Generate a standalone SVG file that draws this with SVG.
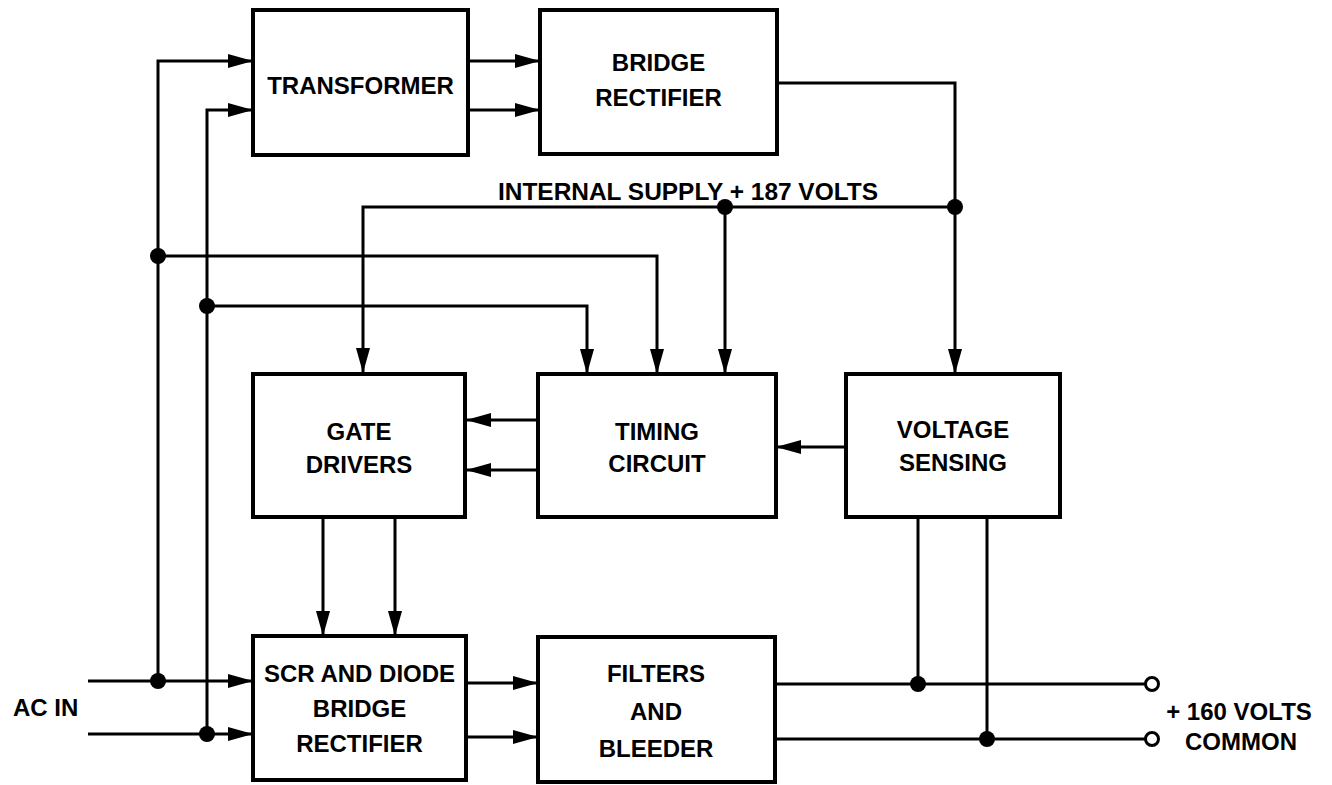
<svg xmlns="http://www.w3.org/2000/svg" width="1332" height="785" viewBox="0 0 1332 785">
<style>
.box{fill:#fff;stroke:#000;stroke-width:4}
.ln{fill:none;stroke:#000;stroke-width:3}
.ar{marker-end:url(#ah)}
.dot{fill:#000}
.term{fill:#fff;stroke:#000;stroke-width:3}
text{font-family:"Liberation Sans",Arial,Helvetica,sans-serif;font-weight:bold;font-size:24px;fill:#000}
.c{text-anchor:middle}
</style>
<defs>
<marker id="ah" markerUnits="userSpaceOnUse" markerWidth="25" markerHeight="14" refX="25" refY="7" orient="auto">
<path d="M0,0 L25,7 L0,14 Z" fill="#000"/>
</marker>
</defs>
<rect width="1332" height="785" fill="#fff"/>
<g id="connectors">
<path class="ln ar" d="M158,681 V61 H253"/>
<path class="ln ar" d="M207,734 V110 H253"/>
<path class="ln ar" d="M468,61 H540"/>
<path class="ln ar" d="M468,110 H540"/>
<path class="ln ar" d="M777,83 H955 V374"/>
<path class="ln ar" d="M955,207 H363 V373"/>
<path class="ln ar" d="M725,207 V374"/>
<path class="ln ar" d="M158,256 H657 V374"/>
<path class="ln ar" d="M207,306 H587 V374"/>
<path class="ln ar" d="M538,420 H466"/>
<path class="ln ar" d="M538,470 H466"/>
<path class="ln ar" d="M846,447 H776"/>
<path class="ln ar" d="M323,517 V636"/>
<path class="ln ar" d="M395,517 V636"/>
<path class="ln ar" d="M88,681 H253"/>
<path class="ln ar" d="M88,734 H253"/>
<path class="ln ar" d="M466,683 H538"/>
<path class="ln ar" d="M466,737 H538"/>
<path class="ln" d="M775,684 H1145"/>
<path class="ln" d="M775,739 H1145"/>
<path class="ln" d="M918,517 V684"/>
<path class="ln" d="M987,517 V739"/>
<circle class="dot" cx="725" cy="207" r="8"/>
<circle class="dot" cx="955" cy="207" r="8"/>
<circle class="dot" cx="158" cy="256" r="8"/>
<circle class="dot" cx="207" cy="306" r="8"/>
<circle class="dot" cx="158" cy="681" r="8"/>
<circle class="dot" cx="207" cy="734" r="8"/>
<circle class="dot" cx="918" cy="684" r="8"/>
<circle class="dot" cx="987" cy="739" r="8"/>
<circle class="term" cx="1152" cy="684" r="6.5"/>
<circle class="term" cx="1152" cy="739" r="6.5"/>
</g>
<g id="transformer">
<rect class="box" x="253" y="10" width="215" height="145"/>
<text class="c" x="360.5" y="94">TRANSFORMER</text>
</g>
<g id="bridge-rectifier">
<rect class="box" x="540" y="10" width="237" height="144"/>
<text class="c" x="658.5" y="71">BRIDGE</text>
<text class="c" x="658.5" y="106">RECTIFIER</text>
</g>
<g id="internal-supply-label">
<text x="498" y="200" textLength="380" lengthAdjust="spacingAndGlyphs">INTERNAL SUPPLY + 187 VOLTS</text>
</g>
<g id="gate-drivers">
<rect class="box" x="253" y="374" width="212" height="143"/>
<text class="c" x="359" y="440">GATE</text>
<text class="c" x="359" y="473">DRIVERS</text>
</g>
<g id="timing-circuit">
<rect class="box" x="538" y="374" width="238" height="143"/>
<text class="c" x="657" y="440">TIMING</text>
<text class="c" x="657" y="472">CIRCUIT</text>
</g>
<g id="voltage-sensing">
<rect class="box" x="846" y="374" width="214" height="143"/>
<text class="c" x="953" y="438">VOLTAGE</text>
<text class="c" x="953" y="471">SENSING</text>
</g>
<g id="scr-bridge">
<rect class="box" x="253" y="636" width="213" height="144"/>
<text class="c" x="359.5" y="682">SCR AND DIODE</text>
<text class="c" x="359.5" y="717">BRIDGE</text>
<text class="c" x="359.5" y="752">RECTIFIER</text>
</g>
<g id="filters-bleeder">
<rect class="box" x="538" y="637" width="237" height="145"/>
<text class="c" x="656" y="682">FILTERS</text>
<text class="c" x="656" y="720">AND</text>
<text class="c" x="656" y="757">BLEEDER</text>
</g>
<g id="ac-in">
<text x="13" y="716">AC IN</text>
</g>
<g id="outputs">
<text class="c" x="1239" y="720">+ 160 VOLTS</text>
<text class="c" x="1241" y="750">COMMON</text>
</g>
</svg>
